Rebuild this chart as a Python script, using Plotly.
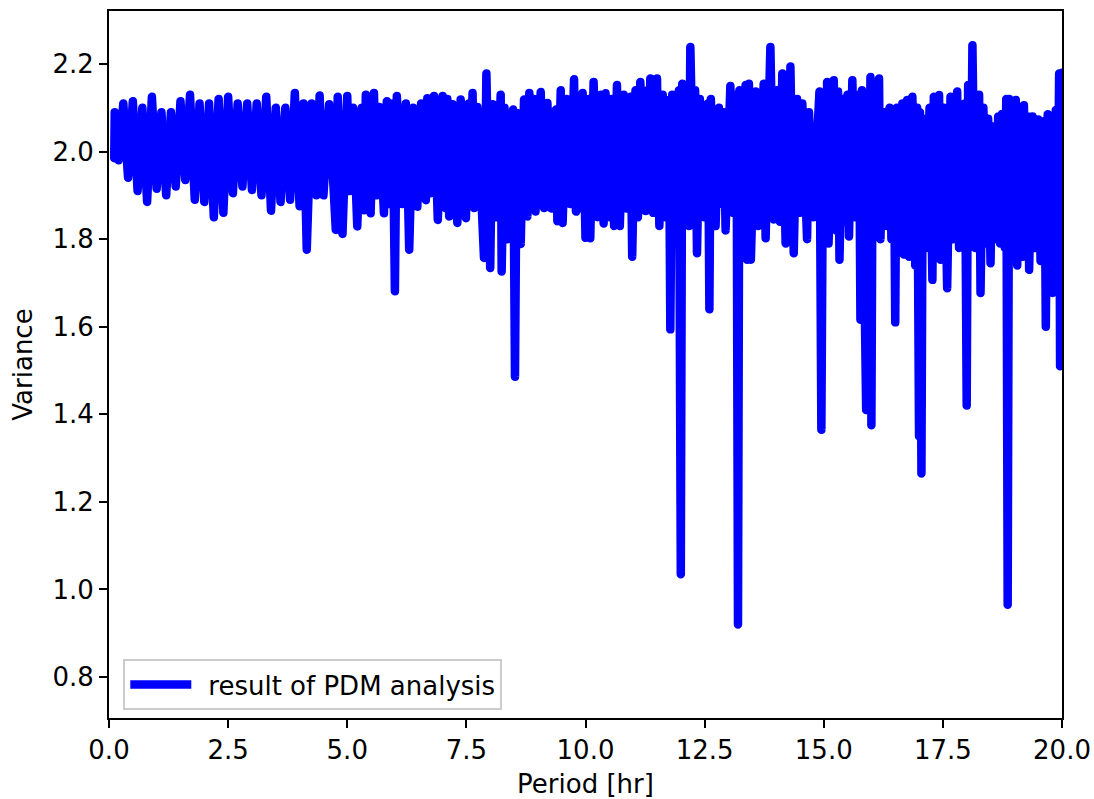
import plotly.graph_objects as go

# PDM analysis result: period [hr] vs variance
period = [
    0.11, 0.12, 0.2, 0.3, 0.4, 0.5, 0.6, 0.7, 0.8, 0.9, 1.0,
    1.1, 1.2, 1.3, 1.4, 1.5, 1.6, 1.7, 1.8, 1.9, 2.0,
    2.1, 2.2, 2.3, 2.4, 2.5, 2.6, 2.7, 2.8, 2.9, 3.0,
    3.1, 3.2, 3.3, 3.4, 3.5, 3.6, 3.7, 3.8, 3.9, 4.0,
    4.08, 4.15, 4.25, 4.35, 4.42, 4.5, 4.62, 4.76, 4.8, 4.9, 5.0,
    5.05, 5.12, 5.21, 5.3, 5.35, 5.39, 5.49, 5.56, 5.62, 5.67, 5.77, 5.83, 5.88, 5.95, 6.0, 6.04,
    6.15, 6.23, 6.3, 6.38, 6.47, 6.55, 6.65, 6.68, 6.75, 6.82, 6.9, 7.0,
    7.07, 7.1, 7.14, 7.21, 7.31, 7.38, 7.49, 7.55, 7.58, 7.63, 7.66, 7.73, 7.87, 7.92, 8.0,
    8.05, 8.12, 8.22, 8.24, 8.3, 8.36, 8.48, 8.52, 8.56, 8.64, 8.71, 8.78, 8.82, 8.88, 8.92, 8.95,
    9.06, 9.13, 9.2, 9.28, 9.38, 9.41, 9.48, 9.52, 9.6, 9.68, 9.76, 9.8, 9.85, 9.88, 9.94, 10.0,
    10.07, 10.1, 10.17, 10.25, 10.32, 10.38, 10.42, 10.5, 10.55, 10.6, 10.66, 10.72, 10.8, 10.86, 10.94, 10.98,
    11.05, 11.1, 11.15, 11.26, 11.3, 11.33, 11.36, 11.42, 11.5, 11.55, 11.62, 11.68, 11.75, 11.78, 11.82, 11.92, 11.96, 12.0,
    12.03, 12.1, 12.14, 12.17, 12.2, 12.27, 12.3, 12.34, 12.4, 12.48, 12.57, 12.6, 12.63, 12.73, 12.8, 12.87, 12.9, 12.94, 13.04,
    13.1, 13.17, 13.2, 13.23, 13.3, 13.36, 13.39, 13.43, 13.47, 13.57, 13.62, 13.74, 13.78, 13.88, 13.95,
    14.02, 14.08, 14.13, 14.2, 14.25, 14.28, 14.3, 14.37, 14.44, 14.5, 14.55, 14.65, 14.69, 14.78, 14.91, 14.95,
    14.99, 15.05, 15.07, 15.1, 15.21, 15.26, 15.3, 15.33, 15.4, 15.45, 15.5, 15.53, 15.6, 15.66, 15.74, 15.77, 15.8, 15.89, 15.92, 15.95, 15.98, 16.0,
    16.03, 16.12, 16.16, 16.19, 16.26, 16.32, 16.38, 16.42, 16.47, 16.5, 16.53, 16.6, 16.65, 16.68, 16.75, 16.79, 16.86, 16.92, 16.96, 17.0,
    17.02, 17.05, 17.08, 17.15, 17.22, 17.28, 17.31, 17.37, 17.42, 17.45, 17.52, 17.59, 17.66, 17.72, 17.8, 17.84, 17.96, 18.0,
    18.03, 18.08, 18.12, 18.18, 18.26, 18.29, 18.35, 18.42, 18.45, 18.5, 18.55, 18.62, 18.66, 18.7, 18.74, 18.8, 18.83, 18.86,
    18.89, 18.98, 19.03, 19.06, 19.12, 19.17, 19.2, 19.26, 19.29, 19.31, 19.38, 19.44, 19.5, 19.55, 19.63, 19.66, 19.7, 19.8, 19.87, 19.9, 19.94, 19.96, 20.0,
]

variance = [
    1.985, 2.09, 1.98, 2.11, 1.94, 2.115, 1.91, 2.10, 1.885, 2.125, 1.915,
    2.09, 1.90, 2.09, 1.92, 2.115, 1.935, 2.13, 1.89, 2.11, 1.885,
    2.11, 1.85, 2.12, 1.86, 2.125, 1.905, 2.11, 1.92, 2.11, 1.912,
    2.11, 1.90, 2.125, 1.865, 2.10, 1.885, 2.10, 1.89, 2.134, 1.875,
    2.11, 1.776, 2.11, 1.90, 2.128, 1.90, 2.108, 1.821, 2.125, 1.812, 2.127,
    1.91, 2.10, 1.829, 2.10, 1.866, 2.13, 1.859, 2.134, 1.90, 2.102, 1.859, 2.115, 1.88, 2.11, 1.681, 2.127,
    1.88, 2.11, 1.776, 2.10, 1.874, 2.11, 1.889, 2.122, 1.905, 2.127, 1.844, 2.127,
    1.87, 2.12, 1.852, 2.108, 1.837, 2.119, 1.848, 2.11, 1.90, 2.134, 1.871, 2.102, 1.757, 2.178, 1.734,
    2.108, 1.85, 2.13, 1.726, 2.10, 1.80, 2.096, 1.486, 2.088, 1.789, 2.119, 1.852, 2.134, 1.88, 2.12, 1.863,
    2.136, 1.871, 2.111, 1.87, 2.096, 1.841, 2.14, 1.837, 2.12, 1.88, 2.165, 1.863, 2.12, 1.87, 2.134, 1.803,
    2.12, 1.802, 2.159, 1.85, 2.13, 1.836, 2.133, 1.85, 2.12, 1.83, 2.152, 1.83, 2.13, 1.87, 2.125, 1.76,
    2.14, 1.85, 2.159, 1.864, 2.14, 1.87, 2.167, 1.86, 2.167, 1.83, 2.13, 1.85, 2.118, 1.594, 2.13, 1.85, 2.14, 1.035,
    2.155, 1.86, 2.13, 1.83, 2.239, 1.88, 2.14, 1.768, 2.12, 1.85, 2.11, 1.64, 2.12, 1.83, 2.10, 1.88, 2.09, 1.82, 2.15,
    1.86, 2.13, 0.92, 2.14, 1.80, 2.152, 1.753, 2.155, 1.753, 2.137, 1.83, 2.155, 1.802, 2.239, 1.845,
    2.14, 1.84, 2.178, 1.79, 2.14, 1.83, 2.194, 1.768, 2.12, 1.86, 2.11, 1.80, 2.09, 1.85, 2.137, 1.365,
    2.13, 1.86, 2.159, 1.79, 2.163, 1.82, 2.137, 1.753, 2.12, 1.84, 2.13, 1.806, 2.163, 1.85, 2.13, 1.616, 2.14, 1.41, 2.12, 1.85, 2.17, 1.375,
    2.14, 1.82, 2.167, 1.80, 2.09, 1.83, 2.10, 1.80, 2.07, 1.61, 2.10, 1.80, 2.11, 1.765, 2.118, 1.76, 2.125, 1.74, 2.10, 1.35,
    2.09, 1.265, 2.075, 1.78, 2.10, 1.707, 2.125, 1.80, 2.129, 1.753, 2.10, 1.688, 2.125, 1.80, 2.137, 1.78, 2.11, 1.42,
    2.152, 1.80, 2.243, 1.78, 2.13, 1.677, 2.10, 1.79, 2.075, 1.745, 2.057, 1.80, 2.08, 1.79, 2.086, 1.78, 2.12, 0.965,
    2.12, 1.78, 2.118, 1.74, 2.10, 1.76, 2.106, 1.78, 2.08, 1.73, 2.08, 1.78, 2.073, 1.75, 2.07, 1.60, 2.085, 1.677, 2.095, 1.70, 2.178, 1.51, 2.18,
]

x_tick_values = [0.0, 2.5, 5.0, 7.5, 10.0, 12.5, 15.0, 17.5, 20.0]
x_tick_labels = ["0.0", "2.5", "5.0", "7.5", "10.0", "12.5", "15.0", "17.5", "20.0"]
y_tick_values = [0.8, 1.0, 1.2, 1.4, 1.6, 1.8, 2.0, 2.2]
y_tick_labels = ["0.8", "1.0", "1.2", "1.4", "1.6", "1.8", "2.0", "2.2"]

FONT = "DejaVu Sans"
FS = 26

fig = go.Figure()
fig.add_trace(go.Scatter(
    x=period, y=variance, mode="lines",
    line=dict(color="#0000ff", width=8.5),
    name="result of PDM analysis",
))

axis_common = dict(
    showline=True, linecolor="black", linewidth=2, mirror=True,
    ticks="outside", ticklen=8, tickwidth=2, tickcolor="black",
    showgrid=False, zeroline=False, automargin=False,
    tickfont=dict(family=FONT, size=FS, color="black"),
)

fig.update_layout(
    width=1094, height=799,
    margin=dict(l=109, r=32, t=11, b=81, pad=0),
    paper_bgcolor="white", plot_bgcolor="white",
    font=dict(family=FONT, size=FS, color="black"),
    showlegend=True,
    legend=dict(
        x=0.015, y=0.011, xanchor="left", yanchor="bottom",
        bgcolor="rgba(255,255,255,0.8)", bordercolor="#cccccc", borderwidth=2,
        font=dict(family=FONT, size=FS, color="black"),
        itemwidth=73,
    ),
    xaxis=dict(
        range=[0, 20], tickvals=x_tick_values, ticktext=x_tick_labels,
        title=dict(text="Period [hr]", font=dict(family=FONT, size=FS), standoff=12),
        **axis_common,
    ),
    yaxis=dict(
        range=[0.7065, 2.321], tickvals=y_tick_values, ticktext=y_tick_labels,
        title=dict(text="Variance", font=dict(family=FONT, size=FS), standoff=12),
        **axis_common,
    ),
)

post = """
document.body.style.margin='0';
document.querySelectorAll('.scatterlayer path.js-line').forEach(function(p){
  p.style.strokeLinejoin='round'; p.style.strokeLinecap='round';
});
document.querySelectorAll('.legend .legendlines path').forEach(function(p){
  p.setAttribute('d','M5,0h61');
});
"""

fig.write_html("out.html", config={"displayModeBar": False}, post_script=post)
